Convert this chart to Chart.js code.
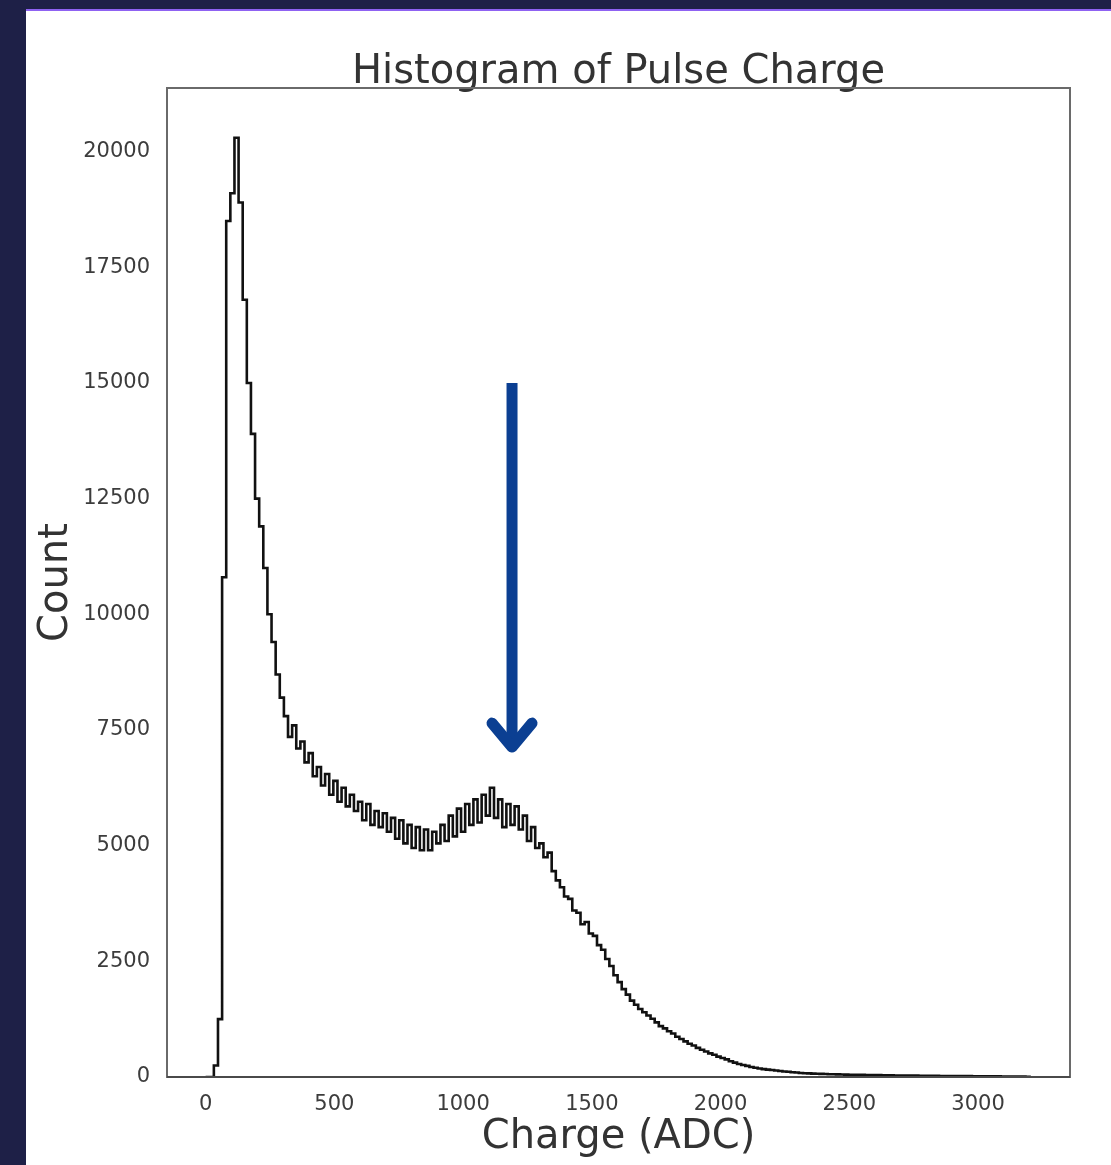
<!DOCTYPE html>
<html>
<head>
<meta charset="utf-8">
<title>Histogram of Pulse Charge</title>
<script src="https://cdn.jsdelivr.net/npm/chart.js@4.4.1/dist/chart.umd.min.js"></script>
<style>
  html, body { margin: 0; padding: 0; }
  body { width: 1111px; height: 1165px; background: #1e2047; position: relative; overflow: hidden; }
  #panel { position: absolute; left: 26px; top: 9px; width: 1085px; height: 1156px; background: #fff; border-top: 2px solid #8f62f2; }
  #chart { position: absolute; left: 0; top: 0; }
</style>
</head>
<body>
<div id="panel"></div>
<canvas id="chart" width="1111" height="1165"></canvas>
<script>
// --- Histogram data (bin width 16 ADC, first bin starts at 0) ---
const binStart = 0;
const binWidth = 16;
const pulseCounts = [
    0, 0, 250, 1250, 10800, 18500, 19100, 20300, 18900, 16800,      // 0-159
    15000, 13900, 12500, 11900, 11000, 10000, 9400, 8700, 8200, 7800, // 160-319
    7350, 7600, 7100, 7250, 6800, 7000, 6500, 6700, 6300, 6550,      // 320-479
    6100, 6400, 5950, 6250, 5850, 6100, 5750, 5950, 5550, 5900,      // 480-639
    5450, 5750, 5400, 5700, 5300, 5600, 5150, 5550, 5050, 5450,      // 640-799
    4950, 5400, 4900, 5350, 4900, 5300, 5050, 5450, 5100, 5650,      // 800-959
    5200, 5800, 5300, 5900, 5450, 6000, 5500, 6100, 5650, 6250,      // 960-1119
    5600, 6000, 5400, 5900, 5450, 5850, 5350, 5650, 5100, 5400,      // 1120-1279
    4950, 5050, 4750, 4850, 4450, 4250, 4100, 3900, 3850, 3600,      // 1280-1439
    3550, 3300, 3350, 3100, 3050, 2850, 2750, 2550, 2400, 2200,      // 1440-1599
    2050, 1900, 1780, 1650, 1560, 1470, 1400, 1330, 1260, 1180,      // 1600-1759
    1100, 1050, 990, 940, 870, 820, 770, 720, 680, 630,              // 1760-1919
    590, 550, 510, 480, 440, 410, 380, 340, 310, 280,                // 1920-2079
    260, 240, 215, 200, 185, 170, 160, 150, 140, 130,                // 2080-2239
    120, 112, 104, 96, 88, 82, 78, 74, 70, 67,                       // 2240-2399
    64, 61, 58, 56, 54, 52, 50, 48, 46, 45,                          // 2400-2559
    44, 42, 41, 40, 38, 37, 36, 34, 33, 32,                          // 2560-2719
    31, 30, 29, 28, 27, 26, 25, 24, 23, 22,                          // 2720-2879
    22, 21, 20, 20, 19, 18, 17, 17, 16, 15,                          // 2880-3039
    15, 14, 13, 12, 12, 11, 10, 9, 8, 7                              // 3040-3199
];

const xTickValues = [0, 500, 1000, 1500, 2000, 2500, 3000];
const xTickLabels = ['0', '500', '1000', '1500', '2000', '2500', '3000'];
const yTickValues = [0, 2500, 5000, 7500, 10000, 12500, 15000, 17500, 20000];
const yTickLabels = ['0', '2500', '5000', '7500', '10000', '12500', '15000', '17500', '20000'];

// Arrow pointing at the second (single photo-electron) peak
const arrowX = 1190;
const arrowFrom = 15000;
const arrowTo = 7000;

// --- Build step outline: (left edge, count) for each bin, closed to 0 at both ends ---
const stepPoints = [{ x: binStart, y: 0 }];
pulseCounts.forEach((count, i) => {
    stepPoints.push({ x: binStart + i * binWidth, y: count });
});
stepPoints.push({ x: binStart + pulseCounts.length * binWidth, y: 0 });

const FONT = "'DejaVu Sans', sans-serif";

// Box around the axes, drawn over the data like matplotlib spines
const framePlugin = {
    id: 'frame',
    afterDatasetsDraw(chart) {
        const { ctx, chartArea: a } = chart;
        ctx.save();
        ctx.strokeStyle = '#6a6a6a';
        ctx.lineWidth = 2;
        ctx.strokeRect(a.left, a.top, a.right - a.left, a.bottom - a.top);
        ctx.strokeStyle = '#4a4a4a';
        ctx.beginPath();
        ctx.moveTo(a.left, a.bottom);
        ctx.lineTo(a.right, a.bottom);
        ctx.stroke();
        ctx.restore();
    }
};

const arrowPlugin = {
    id: 'peakArrow',
    afterDraw(chart) {
        const { ctx, scales } = chart;
        const x = scales.x.getPixelForValue(arrowX);
        const y0 = scales.y.getPixelForValue(arrowFrom);
        const y1 = scales.y.getPixelForValue(arrowTo);
        ctx.save();
        ctx.strokeStyle = '#0b3f92';
        ctx.lineWidth = 11;
        ctx.lineCap = 'butt';
        ctx.beginPath();
        ctx.moveTo(x, y0);
        ctx.lineTo(x, y1 - 6);
        ctx.stroke();
        ctx.lineCap = 'round';
        ctx.lineJoin = 'round';
        ctx.beginPath();
        ctx.moveTo(x - 20, y1 - 30);
        ctx.lineTo(x, y1 - 6);
        ctx.lineTo(x + 20, y1 - 30);
        ctx.stroke();
        ctx.restore();
    }
};

new Chart(document.getElementById('chart'), {
    type: 'line',
    data: {
        datasets: [{
            data: stepPoints,
            stepped: true,
            borderColor: '#111111',
            borderWidth: 2.6,
            pointRadius: 0,
            fill: false
        }]
    },
    options: {
        responsive: false,
        animation: false,
        events: [],
        layout: { padding: { left: 0, right: 41, top: 0, bottom: 0 } },
        plugins: {
            legend: { display: false },
            tooltip: { enabled: false },
            title: {
                display: true,
                text: 'Histogram of Pulse Charge',
                fullSize: false,
                color: '#333333',
                font: { family: FONT, size: 40, weight: 'normal', lineHeight: 1 },
                padding: { top: 53, bottom: -5 }
            }
        },
        scales: {
            x: {
                type: 'linear',
                min: -150,
                max: 3357,
                grid: { display: false, drawTicks: false },
                border: { display: false },
                afterBuildTicks: (scale) => { scale.ticks = xTickValues.map(v => ({ value: v })); },
                afterFit: (scale) => { scale.height = 88; },
                ticks: {
                    autoSkip: false,
                    maxRotation: 0,
                    padding: 15,
                    color: '#3c3c3c',
                    font: { family: FONT, size: 21 },
                    callback: (value, index) => xTickLabels[index]
                },
                title: {
                    display: true,
                    text: 'Charge (ADC)',
                    color: '#333333',
                    font: { family: FONT, size: 40 },
                    padding: { top: 0, bottom: 3 }
                }
            },
            y: {
                type: 'linear',
                min: 0,
                max: 21375,
                grid: { display: false, drawTicks: false },
                border: { display: false },
                afterBuildTicks: (scale) => { scale.ticks = yTickValues.map(v => ({ value: v })); },
                afterFit: (scale) => { scale.width = 167; },
                ticks: {
                    autoSkip: false,
                    padding: 17,
                    color: '#3c3c3c',
                    font: { family: FONT, size: 21 },
                    callback: (value, index) => yTickLabels[index]
                },
                title: {
                    display: true,
                    text: 'Count',
                    color: '#333333',
                    font: { family: FONT, size: 40 },
                    padding: { top: 33, bottom: 0 }
                }
            }
        }
    },
    plugins: [framePlugin, arrowPlugin]
});
</script>
</body>
</html>
